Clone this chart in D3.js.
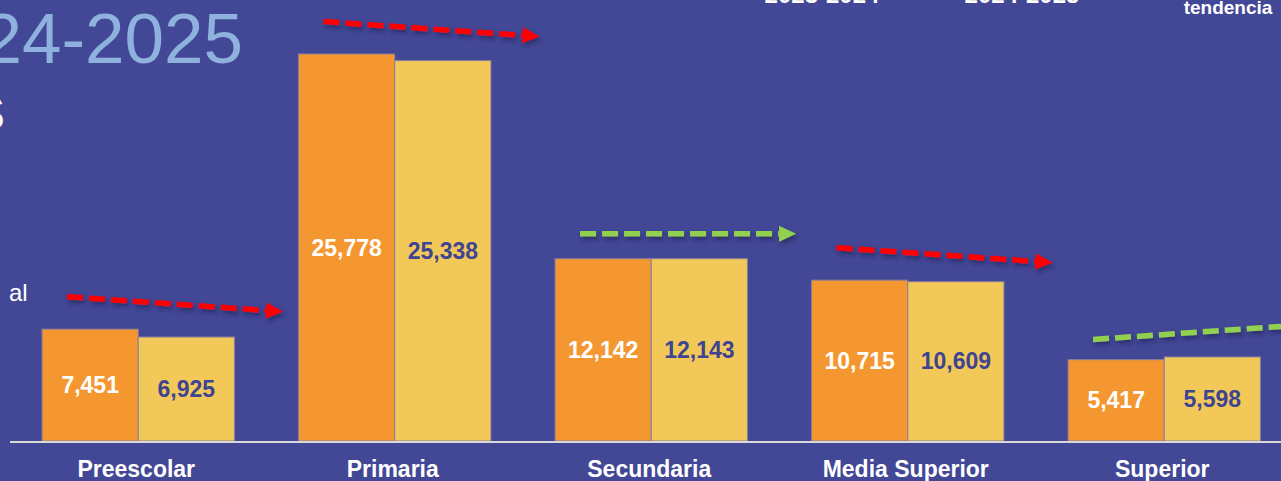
<!DOCTYPE html>
<html>
<head>
<meta charset="utf-8">
<script src="https://cdn.jsdelivr.net/npm/d3@7"></script>
<style>
  html, body { margin: 0; padding: 0; background: #424796; overflow: hidden; }
  svg { display: block; font-family: "Liberation Sans", Arial, sans-serif; }
</style>
</head>
<body>
<div id="chart"></div>
<script>
// Matricula por nivel educativo, ciclos 2023-2024 y 2024-2025

var categories = ["Preescolar", "Primaria", "Secundaria", "Media Superior", "Superior"];
var series = ["2023-2024", "2024-2025"];
var values2023 = [7451, 25778, 12142, 10715, 5417];
var values2024 = [6925, 25338, 12143, 10609, 5598];
// trend shown by the arrow over each group: -1 baja, 0 estable, 1 sube
var trend = [-1, -1, 0, -1, 1];

var width = 1281;
var height = 481;
var baseY = 441;

var colors = { "2023-2024": "#F59731", "2024-2025": "#F2C959" };
var labelColors = { "2023-2024": "#ffffff", "2024-2025": "#3f4492" };

var svg = d3.select("#chart")
  .append("svg")
  .attr("width", width)
  .attr("height", height);

svg.append("rect")
  .attr("width", width)
  .attr("height", height)
  .attr("fill", "#424796");

// shadow for the trend arrows
var defs = svg.append("defs");
defs.append("filter")
  .attr("id", "shadow")
  .attr("x", "-20%").attr("y", "-100%")
  .attr("width", "140%").attr("height", "300%")
  .append("feDropShadow")
  .attr("dx", 2)
  .attr("dy", 3)
  .attr("stdDeviation", 2)
  .attr("flood-color", "#1c1d4a")
  .attr("flood-opacity", 0.6);

// Title fragments (cut off by the frame, as in the slide)
svg.append("text")
  .attr("x", 243).attr("y", 63)
  .attr("text-anchor", "end")
  .attr("fill", "#8FB1DD")
  .attr("font-size", 71)
  .text("2024-2025");

svg.append("text")
  .attr("x", 5).attr("y", 130)
  .attr("text-anchor", "end")
  .attr("fill", "#ffffff")
  .attr("font-size", 48)
  .text("S");

svg.append("text")
  .attr("x", 9).attr("y", 301)
  .attr("fill", "#ffffff")
  .attr("font-size", 24)
  .text("al");

// Legend (mostly above the frame)
var legendX = [822, 1022];
series.forEach(function(s, i) {
  svg.append("text")
    .attr("x", legendX[i]).attr("y", 3)
    .attr("text-anchor", "middle")
    .attr("fill", "#ffffff")
    .attr("font-weight", "bold")
    .attr("font-size", 24)
    .text(s);
});
svg.append("line")
  .attr("x1", 1092).attr("y1", -5)
  .attr("x2", 1136).attr("y2", -5)
  .attr("stroke", "#6b6b8a")
  .attr("stroke-width", 5)
  .attr("filter", "url(#shadow)");
svg.append("text")
  .attr("x", 1228).attr("y", 14)
  .attr("text-anchor", "middle")
  .attr("fill", "#ffffff")
  .attr("font-weight", "bold")
  .attr("font-size", 19)
  .text("tendencia");

// Scales
var x0 = d3.scaleBand()
  .domain(categories)
  .range([10, 1292.5])
  .paddingInner(0.25)
  .paddingOuter(0.125);

var x1 = d3.scaleBand()
  .domain(series)
  .range([0, x0.bandwidth()]);

var y = d3.scaleLinear()
  .domain([0, 25778])
  .range([baseY, 54]);

var rows = categories.map(function(c, i) {
  return { cat: c, vals: [
    { s: series[0], v: values2023[i] },
    { s: series[1], v: values2024[i] }
  ] };
});

var groups = svg.selectAll(".grp")
  .data(rows)
  .enter()
  .append("g")
  .attr("class", "grp")
  .attr("transform", function(d) { return "translate(" + x0(d.cat) + ",0)"; });

groups.selectAll("rect")
  .data(function(d) { return d.vals; })
  .enter()
  .append("rect")
  .attr("x", function(d) { return x1(d.s); })
  .attr("y", function(d) { return y(d.v); })
  .attr("width", x1.bandwidth())
  .attr("height", function(d) { return baseY - y(d.v); })
  .attr("fill", function(d) { return colors[d.s]; })
  .attr("stroke", "#8a7f9e")
  .attr("stroke-width", 1);

groups.selectAll(".val")
  .data(function(d) { return d.vals; })
  .enter()
  .append("text")
  .attr("class", "val")
  .attr("x", function(d) { return x1(d.s) + x1.bandwidth() / 2; })
  .attr("y", function(d) { return (y(d.v) + baseY) / 2 + 8; })
  .attr("text-anchor", "middle")
  .attr("fill", function(d) { return labelColors[d.s]; })
  .attr("font-weight", "bold")
  .attr("font-size", 23)
  .text(function(d) { return d3.format(",")(d.v); });

// Baseline
svg.append("line")
  .attr("x1", 10).attr("x2", width)
  .attr("y1", baseY + 1).attr("y2", baseY + 1)
  .attr("stroke", "#d9d9d9")
  .attr("stroke-width", 2);

// Category labels
svg.selectAll(".cat")
  .data(categories)
  .enter()
  .append("text")
  .attr("class", "cat")
  .attr("x", function(d) { return x0(d) + x0.bandwidth() / 2 - 2; })
  .attr("y", 477)
  .attr("text-anchor", "middle")
  .attr("fill", "#ffffff")
  .attr("font-weight", "bold")
  .attr("font-size", 23)
  .text(function(d) { return d; });

// Trend arrows
function drawArrow(xs, ys, xe, ye, color) {
  var g = svg.append("g").attr("filter", "url(#shadow)");
  var ang = Math.atan2(ye - ys, xe - xs);
  var headLen = 17;
  var hx = xe - headLen * Math.cos(ang);
  var hy = ye - headLen * Math.sin(ang);
  g.append("line")
    .attr("x1", xs).attr("y1", ys)
    .attr("x2", hx).attr("y2", hy)
    .attr("stroke", color)
    .attr("stroke-width", 5.5)
    .attr("stroke-dasharray", "16,6");
  var px = -Math.sin(ang) * 8, py = Math.cos(ang) * 8;
  g.append("path")
    .attr("d", "M" + xe + "," + ye +
      "L" + (hx + px) + "," + (hy + py) +
      "L" + (hx - px) + "," + (hy - py) + "Z")
    .attr("fill", color);
}

rows.forEach(function(d, i) {
  var top = Math.min(y(values2023[i]), y(values2024[i]));
  var mid = top - 25;
  var tilt = -trend[i] * 7.5;
  var xs = x0(d.cat) + 25;
  var xe = x0(d.cat) + 241;
  var color = trend[i] >= 0 ? "#92D050" : "#FF0000";
  drawArrow(xs, mid - tilt, xe, mid + tilt, color);
});
</script>
</body>
</html>
